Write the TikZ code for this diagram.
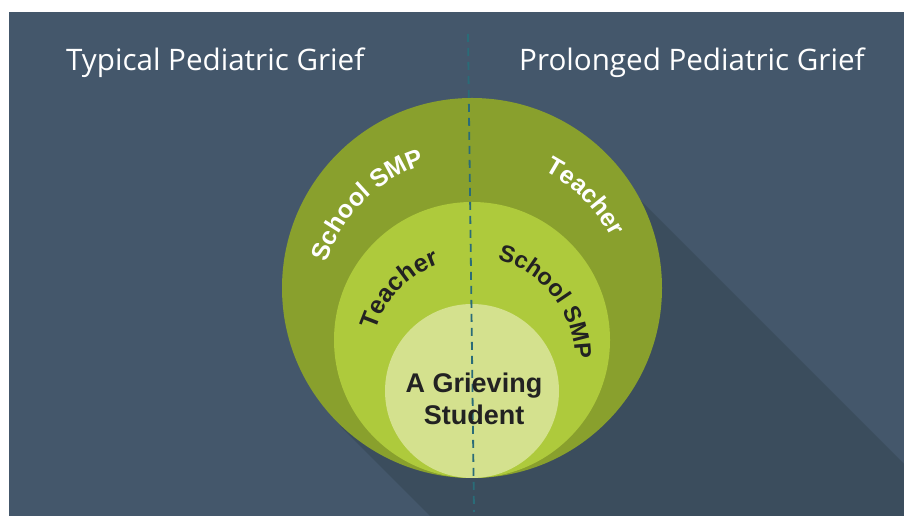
\documentclass[tikz,border=0pt]{standalone}
\usepackage{fontspec}
\setmainfont{Open Sans}
\newfontfamily\labelfont{Liberation Sans}
\usetikzlibrary{decorations.text}

\definecolor{slidebg}{RGB}{68,87,107}
\definecolor{slideshadow}{RGB}{59,77,93}
\definecolor{ringouter}{RGB}{137,160,45}
\definecolor{ringmiddle}{RGB}{174,202,60}
\definecolor{ringinner}{RGB}{212,225,142}
\definecolor{divider}{RGB}{42,108,120}
\definecolor{darktext}{RGB}{34,34,34}

\tikzset{
  ring/.style={circle, draw=none, inner sep=0pt, minimum size=#1},
  title/.style={text=white, font=\fontsize{29.6}{34}\selectfont, inner sep=0pt, anchor=base west},
  arclabel/.style n args={3}{decorate, decoration={text along path, text align=center,
      text color=#1, text={|\labelfont\bfseries\fontsize{#2}{#2}\selectfont|#3}}},
}

\begin{document}
\begin{tikzpicture}[x=1pt,y=1pt]
  % page and slide
  \fill[white] (0,0) rectangle (904,518);
  \useasboundingbox (0,0) rectangle (904,518);
  \fill[slidebg] (9,2) rectangle (904,506);

  % long shadow cast down-right by the rings
  \begin{scope}
    \clip (9,2) rectangle (904,506);
    \fill[slideshadow] (620,338) -- (1100,-142) -- (1000,-568) -- (340,92) -- (472,230) -- cycle;
  \end{scope}

  % nested rings, all touching at the bottom
  \node[ring=380pt, fill=ringouter]  (outer)  at (472,230) {};
  \node[ring=276pt, fill=ringmiddle] (middle) at (472,178) {};
  \node[ring=174pt, fill=ringinner]  (inner)  at (472,127) {};

  % dashed divider between the two halves
  \coordinate (divtop) at (468,484);
  \coordinate (divbot) at (474,6);
  \draw[divider, line width=1.8pt, dash pattern=on 8pt off 6pt] (divtop) -- (divbot);

  % headings
  \node[title] (left)  at (66,447)  {Typical Pediatric Grief};
  \node[title] (right) at (519,447) {Prolonged Pediatric Grief};

  % curved labels on the outer ring
  \path[arclabel={white}{25}{School SMP}] (472,208) ++(176:153pt) arc[start angle=176, end angle=94, radius=153pt];
  \path[arclabel={white}{25}{Teacher}] (472,208) ++(85:157pt) arc[start angle=85, end angle=5, radius=157pt];

  % curved labels on the middle ring
  \path[arclabel={darktext}{25}{Teacher}] (472,158) ++(176:101pt) arc[start angle=176, end angle=96, radius=101pt];
  \path[arclabel={darktext}{23.5}{School SMP}] (472,158) ++(83:103pt) arc[start angle=83, end angle=-7, radius=103pt];

  % centre label
  \node[text=darktext, align=center, inner sep=0pt,
        font=\labelfont\bfseries\fontsize{27}{32}\selectfont] (student) at (474,119) {A Grieving\\Student};
\end{tikzpicture}
\end{document}
